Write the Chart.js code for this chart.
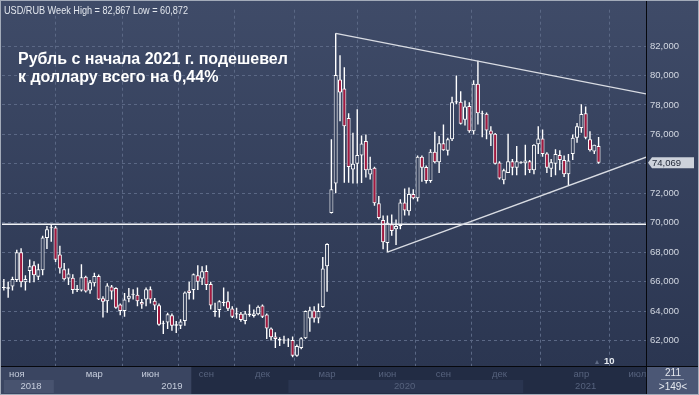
<!DOCTYPE html>
<html>
<head>
<meta charset="utf-8">
<script src="https://cdn.jsdelivr.net/npm/chart.js@4.4.0/dist/chart.umd.min.js"></script>
<style>
  html, body { margin: 0; padding: 0; background: #2a3550; }
  canvas { display: block; }
</style>
</head>
<body>
<canvas id="chart" width="699" height="395"></canvas>
<script>
// weekly USD/RUB candles, first one is 3 weeks before the "ноя" tick
const firstWeek = -3;
const open = [
  65.62, 65.51, 65.67, 66.11, 68.00, 65.96, 66.73, 67.11, 66.33, 66.78,
  68.96, 69.65, 69.67, 67.84, 66.84, 66.22, 66.27, 65.46, 65.40, 66.33,
  65.40, 65.89, 66.38, 64.87, 64.67, 65.67, 65.56, 64.44, 64.00, 64.84,
  65.13, 65.11, 64.62, 64.78, 65.49, 64.71, 64.40, 63.15, 63.22, 63.71,
  63.00, 63.00, 63.33, 65.40, 65.44, 66.44, 66.22, 66.73, 65.84, 63.96,
  64.07, 64.58, 64.67, 64.18, 63.82, 63.82, 63.33, 63.71, 63.67, 63.78,
  64.38, 63.76, 62.82, 62.27, 62.00, 62.02, 62.04, 62.04, 60.96, 61.49,
  62.16, 63.50, 64.04, 63.49, 64.27, 67.04, 70.67, 72.67, 79.73, 79.11,
  77.11, 73.62, 74.00, 74.56, 75.56, 73.27, 73.73, 71.33, 70.18, 68.62,
  69.89, 69.56, 69.78, 71.38, 70.78, 71.96, 71.67, 74.49, 73.78, 72.84,
  74.82, 74.11, 75.40, 74.89, 75.67, 78.20, 78.22, 77.00, 77.93, 76.22,
  79.44, 77.38, 77.40, 76.27, 76.04, 74.10, 72.89, 73.38, 74.18, 73.73,
  74.10, 74.04, 74.18, 73.56, 75.33, 75.73, 74.71, 73.67, 74.00, 74.60,
  74.27, 73.29, 74.67, 75.78, 76.44, 77.44, 75.67, 74.84, 75.22
];
const high = [
  66.18, 66.00, 66.33, 68.16, 68.27, 66.44, 67.51, 67.38, 67.22, 69.11,
  69.78, 69.89, 69.78, 68.44, 67.27, 66.89, 66.51, 65.78, 67.18, 66.40,
  66.11, 66.60, 66.49, 65.00, 65.89, 65.78, 65.62, 64.51, 65.22, 65.56,
  65.49, 65.60, 64.82, 65.60, 65.67, 64.89, 64.51, 63.35, 63.89, 63.84,
  63.33, 63.44, 65.33, 66.00, 66.56, 67.11, 67.04, 67.11, 66.00, 64.56,
  64.73, 65.60, 65.33, 64.33, 64.22, 63.93, 64.00, 64.44, 64.11, 64.38,
  64.44, 63.84, 62.89, 62.56, 62.22, 62.33, 62.16, 62.27, 61.73, 62.22,
  64.04, 64.30, 64.33, 64.51, 67.67, 68.60, 75.67, 82.867, 81.38, 80.56,
  77.44, 76.11, 77.71, 75.93, 76.00, 74.49, 73.80, 71.82, 70.49, 70.49,
  70.56, 70.22, 71.60, 72.33, 72.40, 72.27, 74.56, 74.56, 73.89, 75.00,
  76.18, 75.89, 76.67, 75.78, 78.56, 80.00, 78.93, 78.30, 78.18, 79.67,
  81.00, 77.60, 77.49, 76.56, 76.10, 74.18, 73.67, 76.04, 74.33, 75.22,
  74.18, 75.29, 74.27, 75.33, 76.56, 76.33, 74.78, 74.33, 75.00, 74.93,
  74.56, 74.67, 76.00, 76.78, 78.04, 77.89, 76.22, 75.29, 75.82
];
const low = [
  65.40, 64.91, 65.40, 65.98, 65.62, 65.40, 65.93, 65.96, 66.11, 66.44,
  68.22, 68.71, 67.33, 66.56, 66.07, 65.78, 65.18, 65.29, 65.33, 65.27,
  65.18, 65.67, 64.76, 63.56, 63.89, 64.78, 64.16, 63.71, 63.62, 64.60,
  64.78, 64.33, 64.16, 64.33, 64.51, 64.07, 63.00, 62.44, 62.78, 62.67,
  62.51, 62.78, 63.00, 64.78, 64.78, 65.44, 65.78, 65.44, 64.11, 63.62,
  63.56, 64.33, 64.00, 63.53, 63.49, 63.27, 63.11, 63.62, 63.56, 63.71,
  63.53, 62.11, 62.00, 61.49, 61.62, 61.78, 61.56, 60.872, 60.90, 61.40,
  62.11, 62.60, 63.22, 63.18, 64.22, 65.31, 70.62, 72.00, 76.89, 72.71,
  72.71, 72.67, 72.67, 72.70, 73.07, 72.93, 71.16, 70.22, 68.20, 68.00,
  69.11, 68.49, 69.56, 70.49, 70.49, 71.60, 71.44, 72.78, 72.67, 72.71,
  74.04, 73.38, 74.89, 74.56, 75.56, 78.04, 76.67, 76.60, 76.11, 76.00,
  76.67, 75.80, 75.67, 75.22, 73.96, 72.93, 72.62, 73.38, 73.22, 73.22,
  74.00, 73.22, 73.38, 73.29, 74.67, 74.49, 73.38, 73.11, 73.22, 73.56,
  73.11, 72.56, 74.27, 75.44, 76.11, 75.67, 74.84, 74.67, 74.00
];
const close = [
  65.58, 65.62, 66.18, 68.00, 65.96, 66.18, 67.04, 66.44, 66.84, 69.00,
  69.56, 69.67, 67.49, 66.89, 66.16, 66.56, 65.44, 65.49, 66.29, 65.33,
  65.96, 66.38, 64.78, 64.64, 65.73, 65.33, 64.22, 64.00, 64.78, 65.04,
  65.15, 64.67, 64.44, 65.49, 64.78, 64.38, 63.07, 63.20, 63.78, 63.00,
  63.11, 63.29, 65.27, 65.22, 66.51, 66.00, 66.71, 65.78, 64.38, 63.98,
  64.67, 64.60, 64.16, 63.62, 63.80, 63.40, 63.84, 63.84, 63.84, 64.29,
  63.62, 62.82, 62.22, 62.11, 62.11, 62.04, 62.02, 60.96, 61.62, 62.16,
  64.00, 64.05, 63.49, 64.00, 66.89, 68.56, 72.27, 80.04, 78.84, 76.56,
  73.78, 74.00, 74.60, 75.38, 73.56, 73.67, 71.33, 70.33, 68.67, 70.00,
  69.44, 69.78, 71.38, 70.84, 71.96, 71.67, 74.49, 73.73, 72.84, 74.82,
  74.11, 75.40, 74.93, 75.67, 78.18, 78.22, 76.73, 77.90, 76.22, 79.44,
  77.44, 77.42, 76.27, 76.00, 74.00, 73.00, 73.56, 74.18, 73.73, 74.18,
  74.13, 74.22, 73.56, 75.29, 75.73, 74.67, 73.73, 74.11, 74.67, 74.27,
  73.29, 74.22, 75.78, 76.56, 77.38, 75.78, 74.93, 75.29, 74.069
];

// axis labels
const monthTicks = [0, 18, 31, 44, 57, 72, 86, 99, 112, 131, 144];
const monthLabels = ['ноя', 'мар', 'июн', 'сен', 'дек', 'мар', 'июн', 'сен', 'дек', 'апр', 'июл'];
const yearTicks = [3.3, 36, 90, 132];
const yearLabels = ['2018', '2019', '2020', '2021'];
const priceTicks = [62, 64, 66, 68, 70, 72, 74, 76, 78, 80, 82];
const lastPrice = 74.069;

// drawn lines
const resistance = [[74, 82.867], [146, 78.75]];
const support = [[86, 68.0], [146, 74.45]];
const level = 69.9;

const headerText = 'USD/RUB Week High = 82,867 Low = 60,872';
const titleLines = ['Рубль с начала 2021 г. подешевел', 'к доллару всего на 0,44%'];

const weekIdx = open.map((_, i) => firstWeek + i);
const fmt = (v, d) => v.toFixed(d).replace('.', ',');

const wickData = weekIdx.map((x, i) => ({x: x, y: [low[i], high[i]]}));
const bodyData = weekIdx.map((x, i) => {
    let a = Math.min(open[i], close[i]), b = Math.max(open[i], close[i]);
    if (b - a < 0.07) {const m = (a + b) / 2; a = m - 0.035; b = m + 0.035;}
    return {x: x, y: [a, b]};
});
const bodyColors = weekIdx.map((_, i) => {
    if (Math.abs(open[i] - close[i]) < 0.07) return '#ffffff';
    return close[i] < open[i] ? '#a3193f' : '#35415d';
});

const FONT = '"Liberation Sans", Arial, sans-serif';

// background panels, axis bands and all the overlay text
const chrome = {
    id: 'chrome',
    beforeDraw(chart) {
        const {ctx, chartArea: a, width: W, height: H} = chart;
        const xs = chart.scales.x;
        ctx.save();
        let g = ctx.createLinearGradient(0, 0, 0, a.bottom);
        g.addColorStop(0, '#3f4b68');
        g.addColorStop(1, '#2b3651');
        ctx.fillStyle = g;
        ctx.fillRect(0, 0, W, a.bottom);

        // bottom axis
        ctx.fillStyle = '#222c44';
        ctx.fillRect(0, a.bottom, W, H - a.bottom);
        ctx.fillStyle = '#3a4561';
        ctx.fillRect(0, a.bottom, xs.getPixelForValue(40.5), H - a.bottom);
        ctx.fillStyle = '#48536f';
        ctx.fillRect(4, 380, xs.getPixelForValue(8.6) - 4, 13);
        ctx.fillStyle = '#2a3550';
        const b0 = xs.getPixelForValue(63), b1 = xs.getPixelForValue(117.5);
        ctx.fillRect(b0, 380, b1 - b0, 13);
        ctx.restore();
    },
    afterDraw(chart) {
        const {ctx, chartArea: a, width: W, height: H} = chart;
        const xs = chart.scales.x, ys = chart.scales.y;
        ctx.save();

        // separators
        ctx.fillStyle = '#06080d';
        ctx.fillRect(a.right, 0, 1, H);
        ctx.fillRect(0, a.bottom, W, 1);

        // header, a narrow face squeezed to the reference width
        ctx.textBaseline = 'alphabetic';
        ctx.textAlign = 'left';
        ctx.font = '11.5px ' + FONT;
        const hs = 184 / ctx.measureText(headerText).width;
        ctx.save();
        ctx.translate(4, 13.5);
        ctx.scale(hs, 1);
        ctx.fillStyle = '#e3e7ee';
        ctx.fillText(headerText, 0, 0);
        ctx.restore();

        // title
        ctx.font = 'bold 18px ' + FONT;
        const s = 18 * 270 / ctx.measureText(titleLines[0]).width;
        ctx.font = 'bold ' + s.toFixed(2) + 'px ' + FONT;
        ctx.fillStyle = '#ffffff';
        ctx.fillText(titleLines[0], 18, 63.5);
        ctx.fillText(titleLines[1], 18, 82);

        // years
        ctx.font = '9.5px ' + FONT;
        ctx.textAlign = 'center';
        ctx.textBaseline = 'middle';
        yearLabels.forEach((t, i) => {
            ctx.fillStyle = i < 2 ? '#c6cddc' : '#56627d';
            ctx.fillText(t, xs.getPixelForValue(yearTicks[i]), 386);
        });

        // last price tag
        const py = ys.getPixelForValue(lastPrice);
        ctx.fillStyle = '#cdd2db';
        ctx.beginPath();
        ctx.moveTo(a.right + 2, py);
        ctx.lineTo(a.right + 6, py - 5.5);
        ctx.lineTo(W - 5, py - 5.5);
        ctx.lineTo(W - 5, py + 5.5);
        ctx.lineTo(a.right + 6, py + 5.5);
        ctx.closePath();
        ctx.fill();
        ctx.fillStyle = '#1d2434';
        ctx.textAlign = 'left';
        ctx.font = '9.5px ' + FONT;
        ctx.fillText(fmt(lastPrice, 3), a.right + 6, py + 0.5);

        // marker "10"
        ctx.fillStyle = '#5f6b85';
        ctx.beginPath();
        ctx.moveTo(595, 364); ctx.lineTo(599, 364); ctx.lineTo(597, 360);
        ctx.closePath(); ctx.fill();
        ctx.fillStyle = '#e8ecf2';
        ctx.font = 'bold 9.5px ' + FONT;
        ctx.fillText('10', 604, 361.5);

        // corner box
        ctx.fillStyle = '#4b5775';
        ctx.fillRect(a.right + 1, a.bottom + 1, W - a.right - 1, H - a.bottom - 1);
        ctx.fillStyle = '#e6e9ef';
        ctx.textAlign = 'center';
        ctx.font = '10px ' + FONT;
        ctx.fillText('211', 673, 373.5);
        ctx.fillStyle = '#8b95aa';
        ctx.fillRect(661, 379, 23, 1);
        ctx.fillStyle = '#e6e9ef';
        ctx.fillText('>149<', 673, 387);

        // frame
        ctx.strokeStyle = '#a3abb9';
        ctx.lineWidth = 1;
        ctx.strokeRect(0.5, 0.5, W - 1, H - 1);
        ctx.restore();
    }
};

const lineSet = (pts, color, width) => ({
    type: 'line',
    data: pts.map(p => ({x: p[0], y: p[1]})),
    borderColor: color,
    borderWidth: width,
    pointRadius: 0,
    order: -1
});

new Chart(document.getElementById('chart'), {
    type: 'bar',
    data: {
        datasets: [
            {
                data: bodyData,
                backgroundColor: bodyColors,
                borderColor: '#ffffff',
                borderWidth: 1,
                borderSkipped: false,
                barThickness: 4,
                inflateAmount: 0,
                grouped: false,
                order: 0
            },
            {
                data: wickData,
                backgroundColor: '#ffffff',
                borderWidth: 0,
                barThickness: 1.4,
                inflateAmount: 0,
                grouped: false,
                order: 1
            },
            lineSet(resistance, '#d9dce3', 1.3),
            lineSet(support, '#d9dce3', 1.3),
            lineSet([[-4, level], [147, level]], '#f2f4f7', 1.5)
        ]
    },
    options: {
        responsive: false,
        devicePixelRatio: 1,
        animation: false,
        layout: {padding: {left: 2, top: 3, right: 0, bottom: 0}},
        plugins: {legend: {display: false}, tooltip: {enabled: false}},
        scales: {
            x: {
                type: 'linear',
                min: -3.43,
                max: 146,
                offset: false,
                afterBuildTicks: (scale) => {scale.ticks = monthTicks.map(v => ({value: v}));},
                afterFit: (scale) => {scale.height = 29;},
                grid: {color: '#5b6885', drawTicks: false},
                border: {display: false, dash: [3, 3]},
                ticks: {
                    autoSkip: false,
                    maxRotation: 0,
                    padding: 3,
                    font: {family: FONT, size: 9.5},
                    color: (c) => c.index < 3 ? '#c6cddc' : '#56627d',
                    callback: (v, i) => monthLabels[i]
                }
            },
            y: {
                position: 'right',
                min: 60.27,
                max: 84.47,
                afterBuildTicks: (scale) => {scale.ticks = priceTicks.map(v => ({value: v}));},
                afterFit: (scale) => {scale.width = 53;},
                grid: {color: '#5b6885', drawTicks: false},
                border: {display: false, dash: [3, 3]},
                ticks: {
                    padding: 4,
                    font: {family: FONT, size: 9.5},
                    color: '#d3d8e2',
                    callback: (v) => v === 74 ? '' : fmt(v, 3)
                }
            }
        }
    },
    plugins: [chrome]
});
</script>
</body>
</html>
